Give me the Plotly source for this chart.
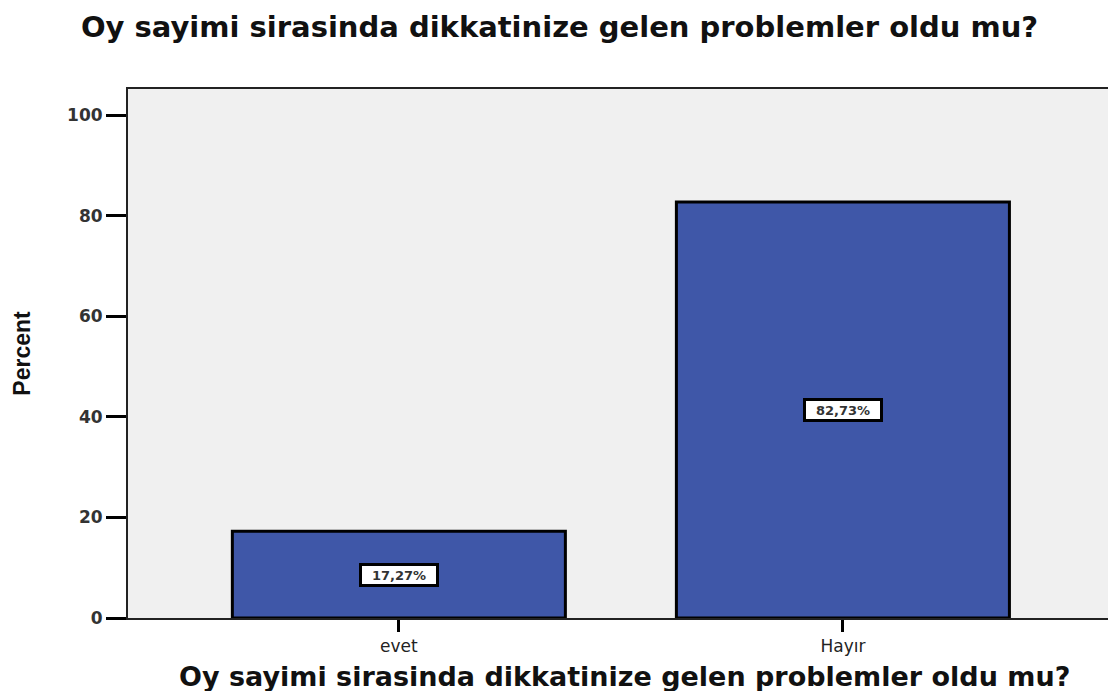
import plotly.graph_objects as go

categories = ["evet", "Hayır"]
percents = [17.27, 82.73]
y_ticks = [0, 20, 40, 60, 80, 100]
question = "Oy sayimi sirasinda dikkatinize gelen problemler oldu mu?"

W, H = 1108, 691
fig = go.Figure()
fig.add_trace(go.Bar(
    x=categories,
    y=percents,
    width=0.75,
    marker=dict(color="#3F57A8", line=dict(color="#000000", width=3)),
    hoverinfo="x+y",
))

for cat, val in zip(categories, percents):
    fig.add_annotation(
        x=cat, y=val / 2, xref="x", yref="y",
        text=f"{val:.2f}%".replace(".", ","),
        showarrow=False,
        font=dict(family="DejaVu Sans", size=13, color="#333333", weight="bold"),
        bgcolor="#FFFFFF", bordercolor="#000000", borderwidth=3, borderpad=1,
        width=72, height=16,
    )

# x-axis title placed by hand so it sits where the reference has it
fig.add_annotation(
    text=question, xref="paper", yref="paper", x=0.507, y=-(676 - 618) / 529,
    xanchor="center", yanchor="middle", showarrow=False,
    font=dict(family="DejaVu Sans", size=27, color="#111111", weight="bold"),
)

fig.update_layout(
    width=W, height=H,
    margin=dict(l=128, r=0, t=89, b=73),
    paper_bgcolor="#FFFFFF",
    plot_bgcolor="#F0F0F0",
    showlegend=False,
    title=dict(
        text=question,
        x=0.505, xanchor="center", y=1 - 27 / H, yanchor="middle", yref="container",
        font=dict(family="DejaVu Sans", size=29, color="#111111", weight="bold"),
    ),
    xaxis=dict(
        range=[-0.61, 1.597],
        showline=True, linecolor="#222222", linewidth=2, mirror=True,
        ticks="outside", ticklen=12, tickwidth=3, tickcolor="#000000",
        tickfont=dict(family="DejaVu Sans", size=17, color="#222222"),
        showgrid=False, zeroline=False,
    ),
    yaxis=dict(
        range=[0, 105.2],
        tickvals=y_ticks,
        showline=True, linecolor="#222222", linewidth=2,
        ticks="outside", ticklen=20, tickwidth=3, tickcolor="#000000",
        tickfont=dict(family="DejaVu Sans", size=17, color="#333333", weight="bold"),
        showgrid=False, zeroline=False,
        title=dict(text="Percent", standoff=30,
                   font=dict(family="Liberation Sans Narrow, Arial Narrow, Liberation Sans", size=23, color="#111111", weight="bold")),
    ),
)

# drop the page's default body margin so the figure fills the window exactly
fig.write_html(
    "out.html",
    config={"displayModeBar": False},
    post_script="document.body.style.margin='0';document.body.style.overflow='hidden';",
)
